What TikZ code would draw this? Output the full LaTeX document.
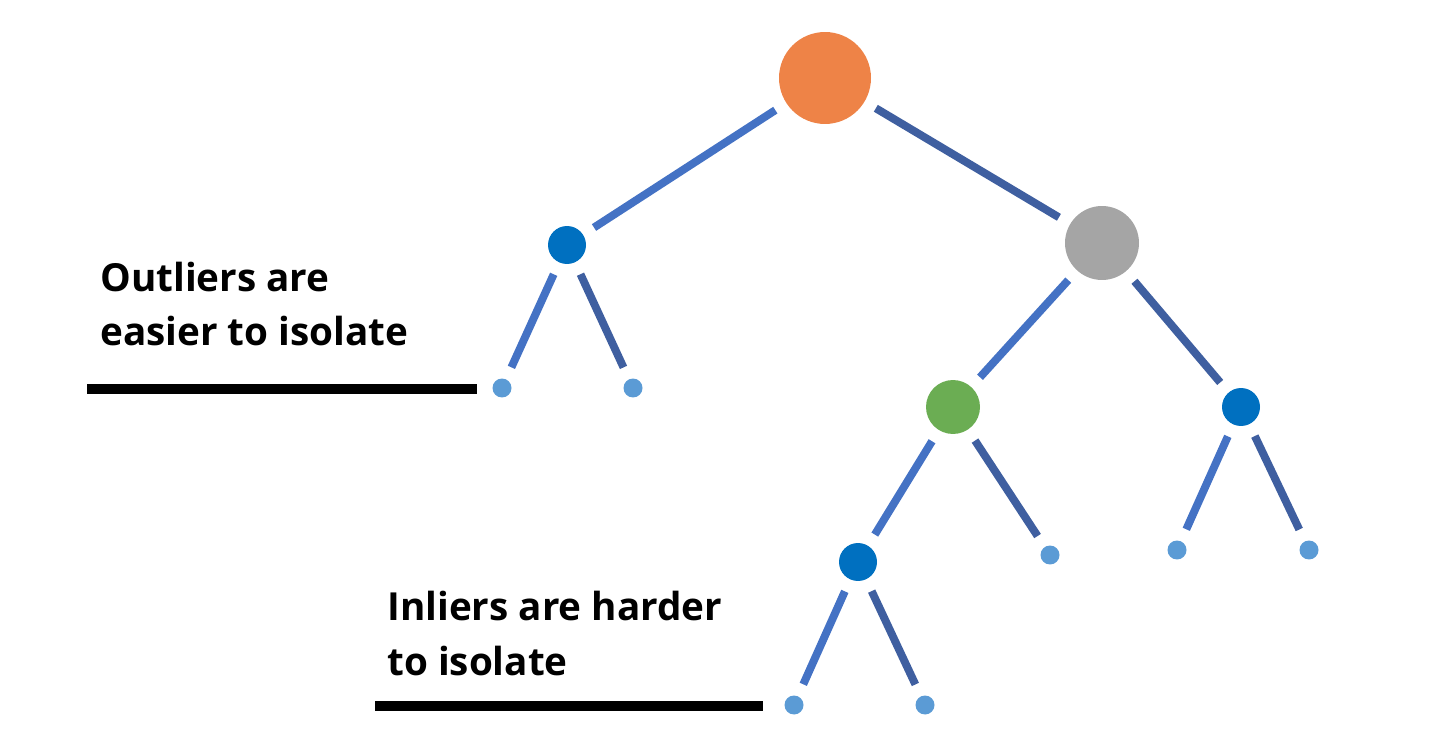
\documentclass[tikz,border=0pt]{standalone}
\usepackage{fontspec}
\setmainfont{Open Sans}
\usepackage{xcolor}
\usetikzlibrary{positioning}

\definecolor{rootorange}{HTML}{EE8347}
\definecolor{splitgray}{HTML}{A5A5A5}
\definecolor{splitgreen}{HTML}{6BAD53}
\definecolor{splitblue}{HTML}{0070C0}
\definecolor{leafblue}{HTML}{5B9BD5}
\definecolor{edgebright}{HTML}{4472C4}
\definecolor{edgedark}{HTML}{3F5FA0}

\begin{document}
\begin{tikzpicture}[
    x=0.02cm, y=-0.02cm,
    treenode/.style={circle, inner sep=0pt, outer sep=7.5pt},
    root/.style={treenode, fill=rootorange, minimum size=1.84cm},
    graynode/.style={treenode, fill=splitgray, minimum size=1.48cm},
    greennode/.style={treenode, fill=splitgreen, minimum size=1.08cm},
    split/.style={treenode, fill=splitblue, minimum size=0.76cm},
    leaf/.style={treenode, fill=leafblue, minimum size=0.38cm},
    edgeL/.style={line width=4.5pt, edgebright},
    edgeR/.style={line width=4.5pt, edgedark},
    note/.style={font=\bfseries\fontsize{22}{31}\selectfont, align=left, anchor=base west, inner sep=0pt},
    noteline/.style={line width=5.5pt, black}
]
\useasboundingbox (0,0) rectangle (1430,729);

% Tree
\node[root] (root) at (825,78) {};
\node[split] (l1) at (567,245) {};
\node[graynode] (r1) at (1102,243) {};
\node[leaf] (l1a) at (502,388) {};
\node[leaf] (l1b) at (633,388) {};
\node[greennode] (r2) at (953,407) {};
\node[split] (r3) at (1241,407) {};
\node[split] (r4) at (858,562) {};
\node[leaf] (r2b) at (1050,555) {};
\node[leaf] (r3a) at (1177,550) {};
\node[leaf] (r3b) at (1309,550) {};
\node[leaf] (r4a) at (794,705) {};
\node[leaf] (r4b) at (925,705) {};

% Branches
\draw[edgeL] (root) -- (l1);
\draw[edgeR] (root) -- (r1);
\draw[edgeL] (l1) -- (l1a);
\draw[edgeR] (l1) -- (l1b);
\draw[edgeL] (r1) -- (r2);
\draw[edgeR] (r1) -- (r3);
\draw[edgeL] (r2) -- (r4);
\draw[edgeR] (r2) -- (r2b);
\draw[edgeL] (r3) -- (r3a);
\draw[edgeR] (r3) -- (r3b);
\draw[edgeL] (r4) -- (r4a);
\draw[edgeR] (r4) -- (r4b);

% Notes
\node[note] (outl) at (100,346) {Outliers are\\easier to isolate};
\node[note] (inl) at (387,675) {Inliers are harder\\to isolate};
\coordinate (outlA) at (87,389);
\coordinate (outlB) at (477,389);
\coordinate (inlA) at (375,706);
\coordinate (inlB) at (763,706);
\draw[noteline] (outlA) -- (outlB);
\draw[noteline] (inlA) -- (inlB);

\end{tikzpicture}
\end{document}
